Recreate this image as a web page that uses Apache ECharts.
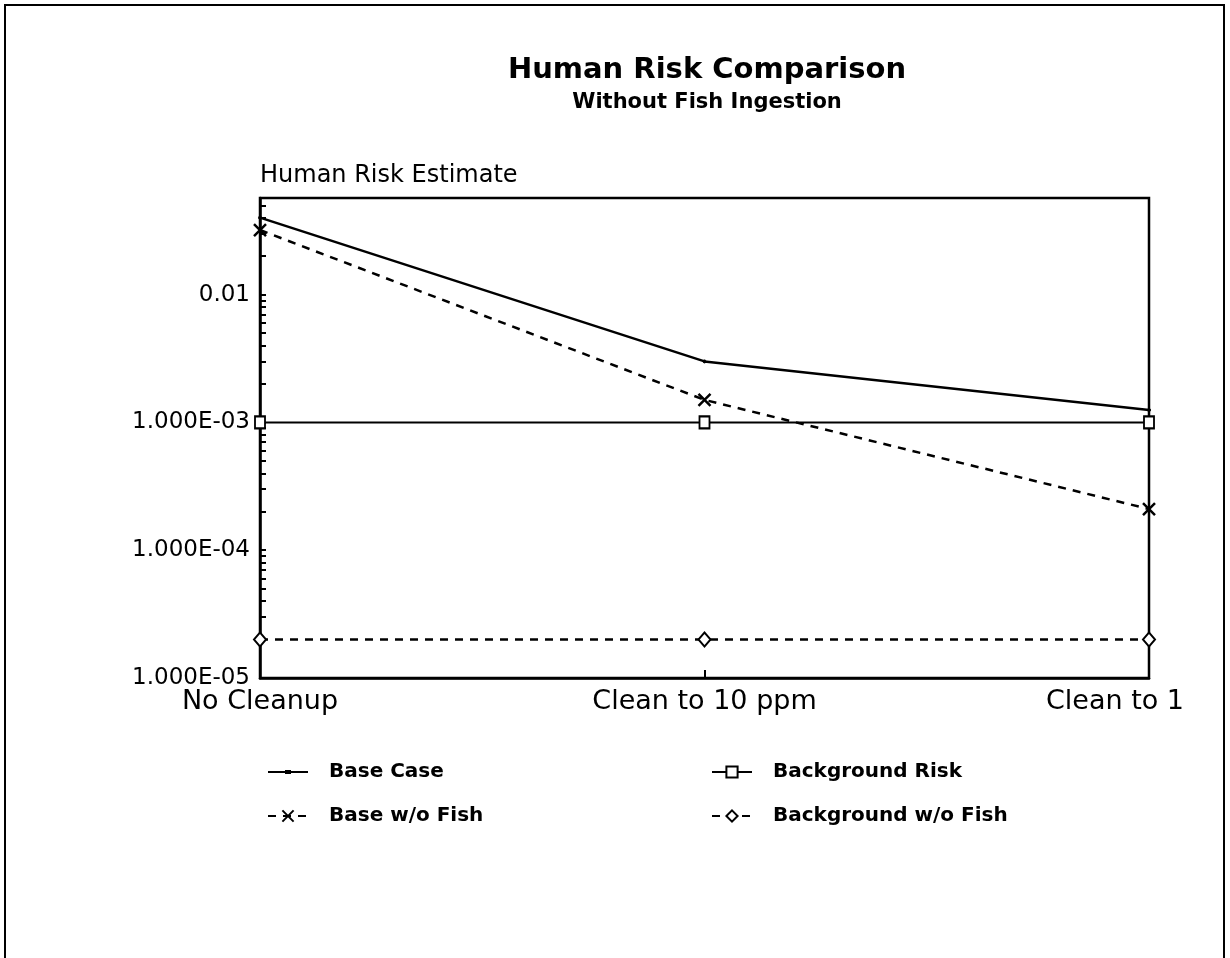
<!DOCTYPE html>
<html><head><meta charset="utf-8">
<script src="https://cdn.jsdelivr.net/npm/echarts@6/dist/echarts.min.js"></script>
<style>
html,body{margin:0;padding:0;background:#fff;}
#c{position:absolute;left:0;top:0;width:1230px;height:958px;}
#frame{position:absolute;left:4px;top:4px;width:1217px;height:990px;border:2px solid #000;border-bottom:none;pointer-events:none;}
</style>
</head><body><div id="c"></div><div id="frame"></div>
<script>
const categories = ['No Cleanup', 'Clean to 10 ppm', 'Clean to 1'];
const baseCase = [0.040, 0.0030, 0.00125];
const baseWoFish = [0.032, 0.0015, 0.00021];
const backgroundRisk = [0.001, 0.001, 0.001];
const backgroundWoFish = [0.00002, 0.00002, 0.00002];
const yLabelValues = [1e-5, 1e-4, 1e-3, 1e-2];
const yLabelTexts = ['1.000E-05', '1.000E-04', '1.000E-03', '0.01'];
const yTickValues = [1e-5, 2e-5, 3e-5, 4e-5, 5e-5, 6e-5, 7e-5, 8e-5, 9e-5,
  1e-4, 2e-4, 3e-4, 4e-4, 5e-4, 6e-4, 7e-4, 8e-4, 9e-4,
  1e-3, 2e-3, 3e-3, 4e-3, 5e-3, 6e-3, 7e-3, 8e-3, 9e-3,
  1e-2, 2e-2, 3e-2, 4e-2, 5e-2];
const yMin = 1e-5, yMax = 0.057;

const FONT = '"DejaVu Sans", "Liberation Sans", Arial, sans-serif';
const chart = echarts.init(document.getElementById('c'));
const X_PATH = 'path://M0,0L10,10M10,0L0,10';

function labelFor(v) {
  for (let i = 0; i < yLabelValues.length; i++) {
    if (Math.abs(Math.log10(v) - Math.log10(yLabelValues[i])) < 1e-6) return yLabelTexts[i];
  }
  return '';
}

const legendText = { fontFamily: FONT, fontWeight: 'bold', fontSize: 20, color: '#000', padding: [0, 0, 0, 16] };

const option = {
  backgroundColor: '#fff',
  animation: false,
  title: [
    { text: 'Human Risk Comparison', left: 707, top: 56, textAlign: 'center', padding: 0,
      textStyle: { fontFamily: FONT, fontWeight: 'bold', fontSize: 29, color: '#000' } },
    { text: 'Without Fish Ingestion', left: 707, top: 92, textAlign: 'center', padding: 0,
      textStyle: { fontFamily: FONT, fontWeight: 'bold', fontSize: 21, color: '#000' } }
  ],
  grid: { left: 260, right: 81, top: 198, bottom: 280, show: true, borderColor: '#000', borderWidth: 2.5, backgroundColor: 'transparent' },
  xAxis: {
    type: 'category', data: categories, boundaryGap: false,
    axisLine: { lineStyle: { color: '#000', width: 2.5 } },
    axisTick: { show: true, inside: true, length: 8, lineStyle: { color: '#000', width: 2 } },
    axisLabel: {
      color: '#000', fontFamily: FONT, fontSize: 27, margin: 10,
      formatter: function (v, i) { return i === categories.length - 1 ? '{last|' + v + '}' : v; },
      rich: { last: { color: '#000', fontFamily: FONT, fontSize: 27, padding: [0, 68, 0, 0] } }
    },
    splitLine: { show: false }
  },
  yAxis: {
    type: 'log', logBase: 10, min: yMin, max: yMax,
    name: 'Human Risk Estimate', nameLocation: 'end', nameGap: 10,
    nameTextStyle: { color: '#000', fontFamily: FONT, fontSize: 24, align: 'left', verticalAlign: 'bottom' },
    axisLine: { show: true, lineStyle: { color: '#000', width: 2.5 } },
    axisTick: { show: true, inside: true, length: 6, lineStyle: { color: '#000', width: 2 }, customValues: yTickValues },
    axisLabel: { color: '#000', fontFamily: FONT, fontSize: 23, margin: 10, customValues: yLabelValues, formatter: labelFor },
    splitLine: { show: false }, minorTick: { show: false }, minorSplitLine: { show: false }
  },
  legend: [
    { orient: 'vertical', left: 262, top: 757, itemWidth: 40, itemHeight: 14, itemGap: 24,
      data: [
        { name: 'Base Case', icon: 'path://M0,6H40V8H0Z M17,5H23V9H17Z' },
        'Base w/o Fish'
      ],
      textStyle: legendText },
    { orient: 'vertical', left: 706, top: 757, itemWidth: 40, itemHeight: 14, itemGap: 24,
      data: ['Background Risk', 'Background w/o Fish'],
      textStyle: legendText }
  ],
  series: [
    { name: 'Base Case', type: 'line', data: baseCase, clip: false,
      symbol: 'circle', symbolSize: 3, showSymbol: true,
      lineStyle: { color: '#000', width: 2.5, type: 'solid' },
      itemStyle: { color: '#000', borderColor: '#000' } },
    { name: 'Base w/o Fish', type: 'line', data: baseWoFish, clip: false,
      symbol: X_PATH, symbolSize: 12, showSymbol: true,
      lineStyle: { color: '#000', width: 2.5, type: [8, 7] },
      itemStyle: { color: '#000', borderColor: '#000', borderWidth: 2.5 } },
    { name: 'Background Risk', type: 'line', data: backgroundRisk, clip: false,
      symbol: 'emptyRect', symbolSize: [10, 12], showSymbol: true,
      lineStyle: { color: '#000', width: 2, type: 'solid' },
      itemStyle: { color: '#000', borderColor: '#000', borderWidth: 2.5 } },
    { name: 'Background w/o Fish', type: 'line', data: backgroundWoFish, clip: false,
      symbol: 'emptyDiamond', symbolSize: [12, 14], showSymbol: true,
      lineStyle: { color: '#000', width: 2.5, type: [8, 7] },
      itemStyle: { color: '#000', borderColor: '#000', borderWidth: 2.5 } }
  ]
};
chart.setOption(option);
</script>
</body></html>
